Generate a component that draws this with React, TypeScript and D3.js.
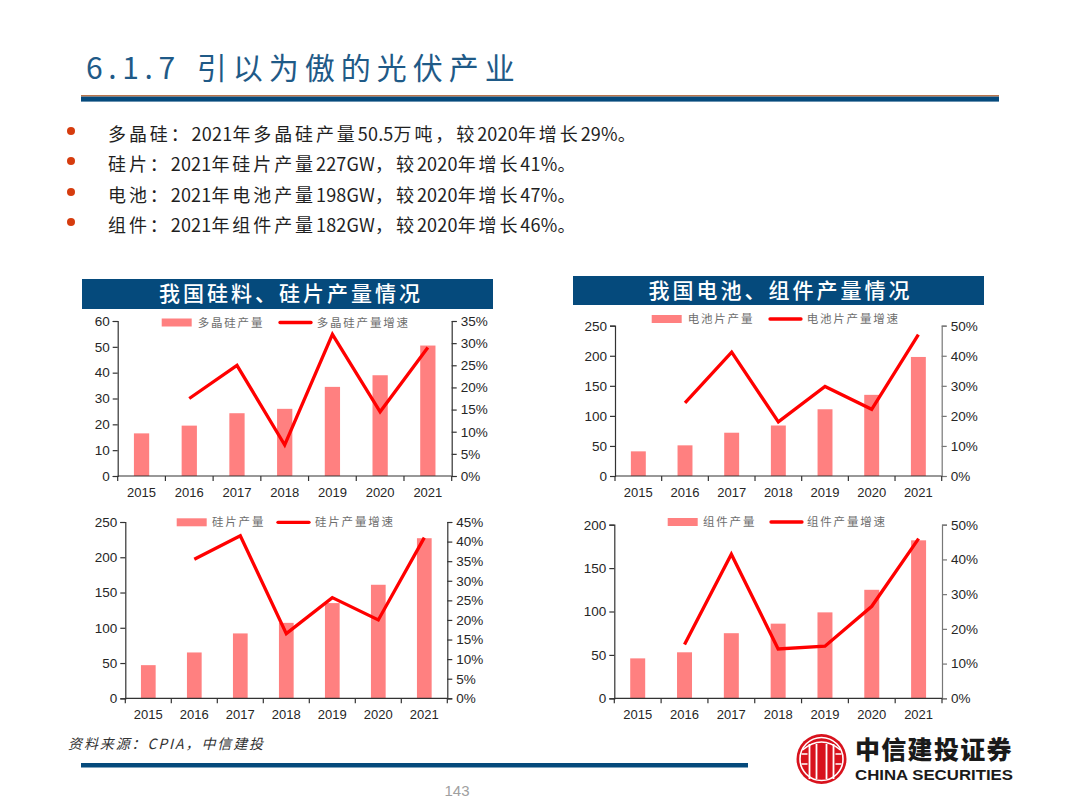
import React, { useEffect, useRef } from "react";
import * as d3 from "d3";

const years = ["2015", "2016", "2017", "2018", "2019", "2020", "2021"];

const polyOutput = [16.5, 19.5, 24.3, 26, 34.5, 39, 50.5];
const polyGrowth = [null, 17.5, 25, 7, 32, 14.5, 29];
const cellOutput = [41, 51, 72, 84, 111, 135, 198];
const cellGrowth = [null, 24.3, 41.2, 18, 29.8, 22.2, 47];
const waferOutput = [47, 65, 92, 107, 135, 161, 227];
const waferGrowth = [null, 35.5, 41.5, 16.5, 25.7, 20, 41];
const moduleOutput = [46, 53, 75, 86, 99, 125, 182];
const moduleGrowth = [null, 15.5, 41.5, 14.2, 15, 26.5, 46];

const bulletLines = [
  "多晶硅：2021年多晶硅产量50.5万吨，较2020年增长29%。",
  "硅片：2021年硅片产量227GW，较2020年增长41%。",
  "电池：2021年电池产量198GW，较2020年增长47%。",
  "组件：2021年组件产量182GW，较2020年增长46%。",
];

const CJK = '"Noto Sans CJK SC", "Noto Sans", sans-serif';
const LATIN = '"Liberation Sans", Arial, sans-serif';
const NAVY = "#054a7c";
const BAR = "#ff8080";
const RED = "#ff0000";
const INK = "#262626";

type PanelProps = {
  box: { l: number; r: number; t: number; b: number };
  bars: number[];
  growth: (number | null)[];
  yMax: number;
  yStep: number;
  gMax: number;
  gStep: number;
  barName: string;
  lineName: string;
  legend: { y: number; sw: number; tx1: number; ln: number; tx2: number };
  rightAxisColor: string;
};

function Panel({ box, bars, growth, yMax, yStep, gMax, gStep, barName, lineName, legend, rightAxisColor }: PanelProps) {
  const ref = useRef<SVGGElement>(null);
  useEffect(() => {
    const g = d3.select(ref.current);
    g.selectAll("*").remove();
    const x = d3.scaleBand<string>().domain(years).range([box.l, box.r]);
    const y = d3.scaleLinear().domain([0, yMax]).range([box.b, box.t]);
    const yr = d3.scaleLinear().domain([0, gMax]).range([box.b, box.t]);
    const bw = x.bandwidth() * 0.32;

    g.append("g")
      .selectAll("rect")
      .data(bars)
      .join("rect")
      .attr("x", (_, i) => (x(years[i]) as number) + x.bandwidth() / 2 - bw / 2)
      .attr("y", (d) => y(d))
      .attr("width", bw)
      .attr("height", (d) => box.b - y(d))
      .attr("fill", BAR);

    const line = d3
      .line<number | null>()
      .defined((d) => d !== null)
      .x((_, i) => (x(years[i]) as number) + x.bandwidth() / 2)
      .y((d) => yr(d as number));

    const style = (a: any, color: string, size: number) => {
      a.selectAll("path").attr("stroke", color).attr("stroke-width", 1.2);
      a.selectAll("line").attr("stroke", color).attr("stroke-width", 1.2);
      a.selectAll("text").attr("fill", INK).attr("font-family", LATIN).attr("font-size", size);
    };

    const left = g
      .append("g")
      .attr("transform", `translate(${box.l},0)`)
      .call(d3.axisLeft(y).tickValues(d3.range(0, yMax + 1e-6, yStep)).tickFormat(d3.format("d")).tickSize(5).tickPadding(3));
    style(left, "#333333", 13.5);

    const right = g
      .append("g")
      .attr("transform", `translate(${box.r},0)`)
      .call(
        d3
          .axisRight(yr)
          .tickValues(d3.range(0, gMax + 1e-6, gStep))
          .tickFormat((d) => `${d}%`)
          .tickSize(5)
          .tickPadding(4)
      );
    style(right, rightAxisColor, 13.5);

    const bottomTicks = g.append("g").attr("transform", `translate(0,${box.b})`);
    bottomTicks
      .append("line")
      .attr("x1", box.l)
      .attr("x2", box.r)
      .attr("stroke", "#333333")
      .attr("stroke-width", 1.2);
    bottomTicks
      .selectAll("line.t")
      .data([...years.map((c) => x(c) as number), box.r])
      .join("line")
      .attr("class", "t")
      .attr("x1", (d) => d)
      .attr("x2", (d) => d)
      .attr("y2", 5)
      .attr("stroke", "#333333")
      .attr("stroke-width", 1.2);
    bottomTicks
      .selectAll("text")
      .data(years)
      .join("text")
      .attr("x", (d) => (x(d) as number) + x.bandwidth() / 2)
      .attr("y", 21)
      .attr("text-anchor", "middle")
      .attr("font-family", LATIN)
      .attr("font-size", 13)
      .attr("fill", INK)
      .text((d) => d);

    g.append("path")
      .datum(growth)
      .attr("d", line as any)
      .attr("fill", "none")
      .attr("stroke", RED)
      .attr("stroke-width", 3.3)
      .attr("stroke-linejoin", "miter");

    g.append("rect")
      .attr("x", legend.sw)
      .attr("y", legend.y - 4)
      .attr("width", 30)
      .attr("height", 8)
      .attr("fill", BAR);
    g.append("line")
      .attr("x1", legend.ln)
      .attr("x2", legend.ln + 31)
      .attr("y1", legend.y)
      .attr("y2", legend.y)
      .attr("stroke", RED)
      .attr("stroke-width", 3.3)
      .attr("stroke-linecap", "round");
    const lt = (tx: number, s: string) =>
      g
        .append("text")
        .attr("x", tx)
        .attr("y", legend.y + 4)
        .attr("font-family", CJK)
        .attr("font-size", 11.5)
        .attr("letter-spacing", 1.8)
        .attr("fill", "#6e6e6e")
        .text(s);
    lt(legend.tx1, barName);
    lt(legend.tx2, lineName);
  }, []);
  return <g ref={ref} />;
}

function Logo() {
  const cx = 821.5;
  const cy = 759;
  const bars = [-12, -5, 5, 12];
  return (
    <g>
      <circle cx={cx} cy={cy} r={25} fill="#d8121d" />
      <circle cx={cx} cy={cy} r={21.5} fill="none" stroke="#fff" strokeWidth={1.6} />
      <path
        d={`M${cx - 19} ${cy - 9} Q${cx} ${cy - 25} ${cx + 19} ${cy - 9}`}
        fill="none"
        stroke="#fff"
        strokeWidth={1.6}
      />
      {bars.map((d) => (
        <line key={d} x1={cx + d} x2={cx + d} y1={cy - 15} y2={cy + 20} stroke="#fff" strokeWidth={1.8} />
      ))}
      <path d={`M${cx - 20} ${cy - 5} h6 M${cx - 20} ${cy + 5} h6 M${cx + 20} ${cy - 5} h-6 M${cx + 20} ${cy + 5} h-6`} stroke="#fff" strokeWidth={1.6} />
      <text x={855} y={759} fontFamily={CJK} fontWeight={900} fontSize={25} letterSpacing={1.3} fill="#1a1a1a">
        中信建投证券
      </text>
      <text x={855} y={779.5} fontFamily={LATIN} fontWeight={700} fontSize={15} textLength={158} lengthAdjust="spacingAndGlyphs" fill="#1a1a1a">
        CHINA SECURITIES
      </text>
    </g>
  );
}

// CJK glyphs are set wide, Latin runs tight, as in the reference slide.
function BulletText({ s, y }: { s: string; y: number }) {
  const runs = s.split(/([0-9A-Za-z.%]+)/).filter((r) => r.length > 0);
  return (
    <text x={108} y={y} fontFamily={CJK} fontSize={18} fill="#1f1f1f">
      {runs.map((r, i) => (
        <tspan key={i} letterSpacing={/^[0-9A-Za-z.%]+$/.test(r) ? 0.2 : 2.9}>
          {r}
        </tspan>
      ))}
    </text>
  );
}

export default function App() {
  const bulletY = [131, 161, 192, 222];
  return (
    <svg
      width={1080}
      height={810}
      viewBox="0 0 1080 810"
      style={{ position: "absolute", left: 0, top: 0, background: "#fff", display: "block" }}
    >
      <text x={86} y={79} fontFamily={CJK} fontSize={30} letterSpacing={5.6} fill="#1f5a87">
        <tspan>6.1.7</tspan>
        <tspan dx={16} letterSpacing={6}>引以为傲的光伏产业</tspan>
      </text>
      <rect x={81} y={95} width={918} height={1.6} fill="#b8744a" />
      <rect x={81} y={96.6} width={918} height={5} fill={NAVY} />

      {bulletLines.map((s, i) => (
        <g key={s}>
          <circle cx={71} cy={bulletY[i]} r={4} fill="#d63c0e" />
          <BulletText s={s} y={bulletY[i] + 10} />
        </g>
      ))}

      <rect x={82} y={279} width={411} height={30} fill={NAVY} />
      <text x={291} y={301} textAnchor="middle" fontFamily={CJK} fontWeight={500} fontSize={21} letterSpacing={3} fill="#fff">
        我国硅料、硅片产量情况
      </text>
      <rect x={573} y={276} width={411} height={29} fill={NAVY} />
      <text x={780.5} y={297.5} textAnchor="middle" fontFamily={CJK} fontWeight={500} fontSize={21} letterSpacing={3} fill="#fff">
        我国电池、组件产量情况
      </text>

      <Panel
        box={{ l: 117.7, r: 451.7, t: 321, b: 476 }}
        bars={polyOutput}
        growth={polyGrowth}
        yMax={60}
        yStep={10}
        gMax={35}
        gStep={5}
        barName="多晶硅产量"
        lineName="多晶硅产量增速"
        legend={{ y: 322.5, sw: 161.7, tx1: 197.7, ln: 280, tx2: 316.7 }}
        rightAxisColor="#333333"
      />
      <Panel
        box={{ l: 615, r: 941.7, t: 325.7, b: 476 }}
        bars={cellOutput}
        growth={cellGrowth}
        yMax={250}
        yStep={50}
        gMax={50}
        gStep={10}
        barName="电池片产量"
        lineName="电池片产量增速"
        legend={{ y: 319, sw: 651.7, tx1: 687.7, ln: 770, tx2: 806.7 }}
        rightAxisColor="#777777"
      />
      <Panel
        box={{ l: 125.3, r: 447.3, t: 522, b: 698.3 }}
        bars={waferOutput}
        growth={waferGrowth}
        yMax={250}
        yStep={50}
        gMax={45}
        gStep={5}
        barName="硅片产量"
        lineName="硅片产量增速"
        legend={{ y: 522.3, sw: 176.7, tx1: 212, ln: 278, tx2: 315 }}
        rightAxisColor="#333333"
      />
      <Panel
        box={{ l: 614.3, r: 942, t: 524.7, b: 698.3 }}
        bars={moduleOutput}
        growth={moduleGrowth}
        yMax={200}
        yStep={50}
        gMax={50}
        gStep={10}
        barName="组件产量"
        lineName="组件产量增速"
        legend={{ y: 522, sw: 667.7, tx1: 703, ln: 771, tx2: 807 }}
        rightAxisColor="#777777"
      />

      <text x={68} y={749} fontFamily={CJK} fontStyle="italic" fontSize={14} letterSpacing={1.9} fill="#333">
        资料来源：CPIA，中信建投
      </text>
      <rect x={81} y={763} width={667} height={4.5} fill={NAVY} />
      <text x={457} y={796} textAnchor="middle" fontFamily={LATIN} fontSize={15} fill="#a0a0a0">
        143
      </text>
      <Logo />
    </svg>
  );
}
